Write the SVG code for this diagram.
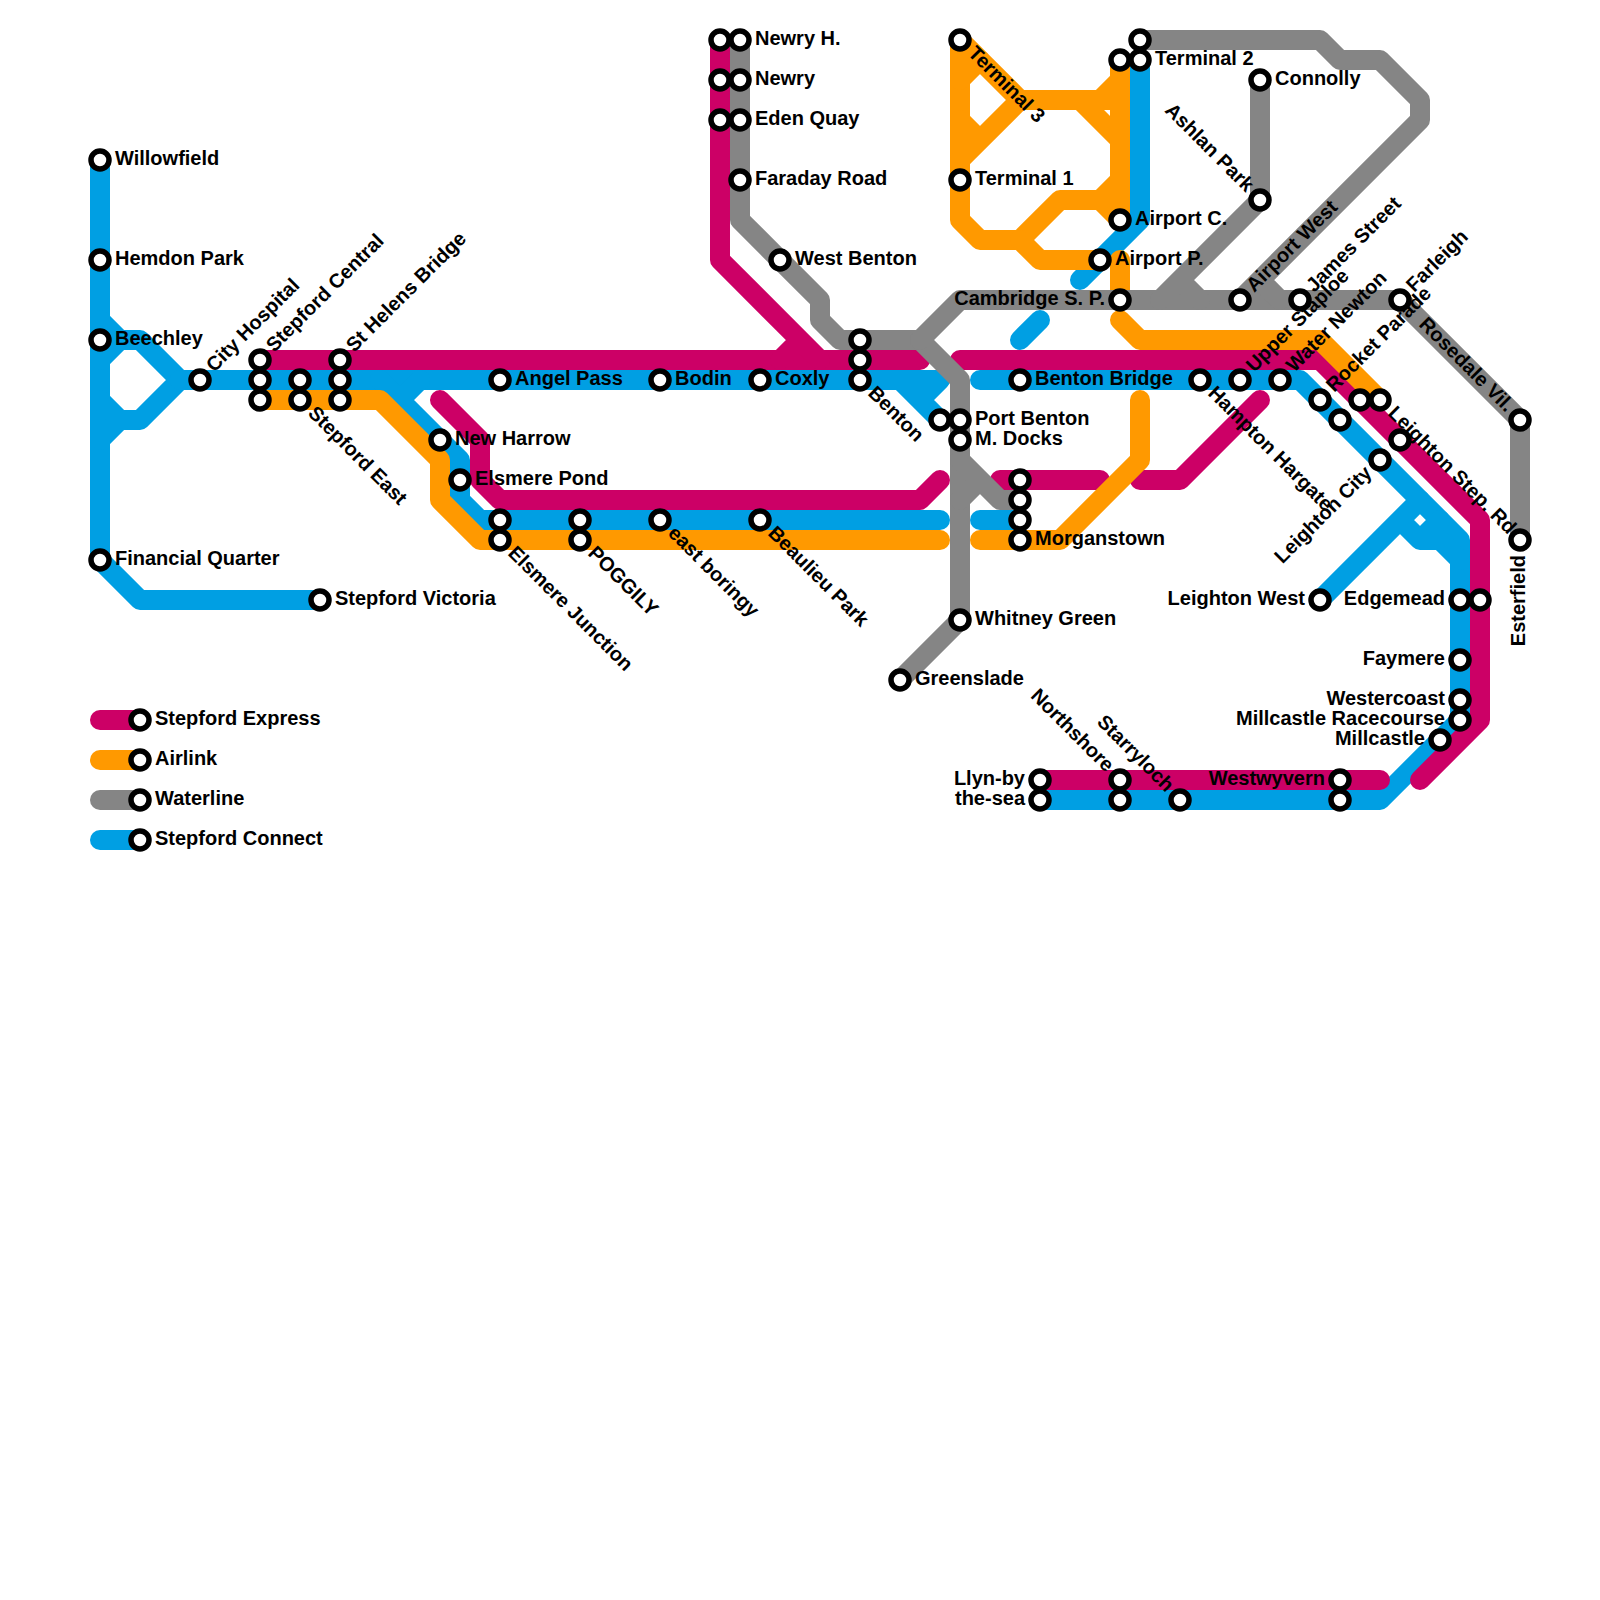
<svg xmlns="http://www.w3.org/2000/svg" width="1600" height="1600" viewBox="0 0 1600 1600">
<style>
.l{fill:none;stroke-width:20;stroke-linecap:round;stroke-linejoin:round}
.b{stroke:#009fe3}.m{stroke:#cc0066}.o{stroke:#ff9900}.g{stroke:#858585}
.s{fill:#fff;stroke:#000;stroke-width:5.5}
text{font-family:"Liberation Sans",Arial,sans-serif;font-weight:700;font-size:20px;fill:#000}
.e{text-anchor:end}
</style>
<rect width="1600" height="1600" fill="#fff"/>
<g id="connectors">
<g id="stepford-connect" class="l b">
<path d="M100 160V560L140 600H320"/>
<path d="M100 320L120 340H140L180 380L140 420H120L100 400M100 360L120 340M100 440L120 420"/>
<path d="M180 380H940M900 380L940 420M920 400L940 380"/>
<path d="M380 380L460 460V500L480 520H940M400 400L420 380"/>
<path d="M980 520H1020"/>
<path d="M1140 60V220L1080 280"/>
<path d="M1040 320L1020 340"/>
<path d="M980 380H1300L1460 540V720L1380 800H1040"/>
<path d="M1320 600L1420 500M1400 520L1420 540H1440L1460 560M1420 540L1440 520"/>
<path d="M100 840H140"/>
</g>
<g id="stepford-express" class="l m">
<path d="M260 360H920"/>
<path d="M720 40V260L820 360M780 360L800 340"/>
<path d="M960 360H1320L1480 520V720L1420 780"/>
<path d="M440 400L480 440V480L500 500H920L940 480"/>
<path d="M1000 480H1100"/>
<path d="M1140 480H1180L1260 400"/>
<path d="M1040 780H1380"/>
<path d="M100 720H140"/>
</g>
<g id="airlink" class="l o">
<path d="M260 400H380L440 460V500L480 540H940"/>
<path d="M960 40V220L980 240H1020L1060 200H1100L1120 180M1100 200L1120 220"/>
<path d="M1120 60V220M1120 80L1100 100H1020L960 40M1080 100L1120 140M1100 100H1120"/>
<path d="M960 160L1020 100M960 80L980 60M960 120L980 140"/>
<path d="M1020 240L1040 260H1100"/>
<path d="M1120 260V300M1120 320L1140 340H1320L1380 400"/>
<path d="M1140 400V460L1060 540H980"/>
<path d="M100 760H140"/>
</g>
<g id="waterline" class="l g">
<path d="M740 40V220L820 300V320L840 340H920L960 380V620L900 680"/>
<path d="M920 340L960 300H1400L1520 420V540"/>
<path d="M1160 300L1260 200V80M1180 280L1200 300"/>
<path d="M1240 300L1420 120V100L1380 60H1340L1320 40H1140M1260 280L1280 300"/>
<path d="M960 460L1000 500H1020M960 500L980 480"/>
<path d="M100 800H140"/>
</g>
</g>
<g id="stations">
<g id="st-willowfield"><circle class="s" cx="100" cy="160" r="9"/><text x="115" y="165">Willowfield</text></g>
<g id="st-hemdon-park"><circle class="s" cx="100" cy="260" r="9"/><text x="115" y="265">Hemdon Park</text></g>
<g id="st-beechley"><circle class="s" cx="100" cy="340" r="9"/><text x="115" y="345">Beechley</text></g>
<g id="st-financial-quarter"><circle class="s" cx="100" cy="560" r="9"/><text x="115" y="565">Financial Quarter</text></g>
<g id="st-stepford-victoria"><circle class="s" cx="320" cy="600" r="9"/><text x="335" y="605">Stepford Victoria</text></g>
<g id="st-city-hospital"><circle class="s" cx="200" cy="380" r="9"/><text transform="translate(200 380) rotate(-45)" x="15" y="5">City Hospital</text></g>
<g id="st-stepford-central"><circle class="s" cx="260" cy="360" r="9"/><circle class="s" cx="260" cy="380" r="9"/><circle class="s" cx="260" cy="400" r="9"/><text transform="translate(260 360) rotate(-45)" x="15" y="5">Stepford Central</text></g>
<g id="st-stepford-east"><circle class="s" cx="300" cy="380" r="9"/><circle class="s" cx="300" cy="400" r="9"/><text transform="translate(300 400) rotate(45)" x="15" y="5">Stepford East</text></g>
<g id="st-st-helens-bridge"><circle class="s" cx="340" cy="360" r="9"/><circle class="s" cx="340" cy="380" r="9"/><circle class="s" cx="340" cy="400" r="9"/><text transform="translate(340 360) rotate(-45)" x="15" y="5">St Helens Bridge</text></g>
<g id="st-new-harrow"><circle class="s" cx="440" cy="440" r="9"/><text x="455" y="445">New Harrow</text></g>
<g id="st-elsmere-pond"><circle class="s" cx="460" cy="480" r="9"/><text x="475" y="485">Elsmere Pond</text></g>
<g id="st-angel-pass"><circle class="s" cx="500" cy="380" r="9"/><text x="515" y="385">Angel Pass</text></g>
<g id="st-elsmere-junction"><circle class="s" cx="500" cy="520" r="9"/><circle class="s" cx="500" cy="540" r="9"/><text transform="translate(500 540) rotate(45)" x="15" y="5">Elsmere Junction</text></g>
<g id="st-poggily"><circle class="s" cx="580" cy="520" r="9"/><circle class="s" cx="580" cy="540" r="9"/><text transform="translate(580 540) rotate(45)" x="15" y="5">POGGILY</text></g>
<g id="st-east-boringy"><circle class="s" cx="660" cy="520" r="9"/><text transform="translate(660 520) rotate(45)" x="15" y="5">east boringy</text></g>
<g id="st-bodin"><circle class="s" cx="660" cy="380" r="9"/><text x="675" y="385">Bodin</text></g>
<g id="st-coxly"><circle class="s" cx="760" cy="380" r="9"/><text x="775" y="385">Coxly</text></g>
<g id="st-beaulieu-park"><circle class="s" cx="760" cy="520" r="9"/><text transform="translate(760 520) rotate(45)" x="15" y="5">Beaulieu Park</text></g>
<g id="st-benton"><circle class="s" cx="860" cy="340" r="9"/><circle class="s" cx="860" cy="360" r="9"/><circle class="s" cx="860" cy="380" r="9"/><text transform="translate(860 380) rotate(45)" x="15" y="5">Benton</text></g>
<g id="st-newry-h"><circle class="s" cx="720" cy="40" r="9"/><circle class="s" cx="740" cy="40" r="9"/><text x="755" y="45">Newry H.</text></g>
<g id="st-newry"><circle class="s" cx="720" cy="80" r="9"/><circle class="s" cx="740" cy="80" r="9"/><text x="755" y="85">Newry</text></g>
<g id="st-eden-quay"><circle class="s" cx="720" cy="120" r="9"/><circle class="s" cx="740" cy="120" r="9"/><text x="755" y="125">Eden Quay</text></g>
<g id="st-faraday-road"><circle class="s" cx="740" cy="180" r="9"/><text x="755" y="185">Faraday Road</text></g>
<g id="st-west-benton"><circle class="s" cx="780" cy="260" r="9"/><text x="795" y="265">West Benton</text></g>
<g id="st-terminal-3"><circle class="s" cx="960" cy="40" r="9"/><text transform="translate(960 40) rotate(45)" x="15" y="5">Terminal 3</text></g>
<g id="st-terminal-1"><circle class="s" cx="960" cy="180" r="9"/><text x="975" y="185">Terminal 1</text></g>
<g id="st-port-benton"><circle class="s" cx="940" cy="420" r="9"/><circle class="s" cx="960" cy="420" r="9"/><text x="975" y="425">Port Benton</text></g>
<g id="st-m-docks"><circle class="s" cx="960" cy="440" r="9"/><text x="975" y="445">M. Docks</text></g>
<g id="st-whitney-green"><circle class="s" cx="960" cy="620" r="9"/><text x="975" y="625">Whitney Green</text></g>
<g id="st-greenslade"><circle class="s" cx="900" cy="680" r="9"/><text x="915" y="685">Greenslade</text></g>
<g id="st-benton-bridge"><circle class="s" cx="1020" cy="380" r="9"/><text x="1035" y="385">Benton Bridge</text></g>
<g id="st-morganstown"><circle class="s" cx="1020" cy="480" r="9"/><circle class="s" cx="1020" cy="500" r="9"/><circle class="s" cx="1020" cy="520" r="9"/><circle class="s" cx="1020" cy="540" r="9"/><text x="1035" y="545">Morganstown</text></g>
<g id="st-airport-c"><circle class="s" cx="1120" cy="220" r="9"/><text x="1135" y="225">Airport C.</text></g>
<g id="st-airport-p"><circle class="s" cx="1100" cy="260" r="9"/><text x="1115" y="265">Airport P.</text></g>
<g id="st-cambridge-s-p"><circle class="s" cx="1120" cy="300" r="9"/><text class="e" x="1105" y="305">Cambridge S. P.</text></g>
<g id="st-terminal-2"><circle class="s" cx="1140" cy="40" r="9"/><circle class="s" cx="1120" cy="60" r="9"/><circle class="s" cx="1140" cy="60" r="9"/><text x="1155" y="65">Terminal 2</text></g>
<g id="st-connolly"><circle class="s" cx="1260" cy="80" r="9"/><text x="1275" y="85">Connolly</text></g>
<g id="st-ashlan-park"><circle class="s" cx="1260" cy="200" r="9"/><text class="e" transform="translate(1260 200) rotate(45)" x="-15" y="5">Ashlan Park</text></g>
<g id="st-airport-west"><circle class="s" cx="1240" cy="300" r="9"/><text transform="translate(1240 300) rotate(-45)" x="15" y="5">Airport West</text></g>
<g id="st-james-street"><circle class="s" cx="1300" cy="300" r="9"/><text transform="translate(1300 300) rotate(-45)" x="15" y="5">James Street</text></g>
<g id="st-farleigh"><circle class="s" cx="1400" cy="300" r="9"/><text transform="translate(1400 300) rotate(-45)" x="15" y="5">Farleigh</text></g>
<g id="st-rosedale-vil"><circle class="s" cx="1520" cy="420" r="9"/><text class="e" transform="translate(1520 420) rotate(45)" x="-15" y="5">Rosedale Vil.</text></g>
<g id="st-esterfield"><circle class="s" cx="1520" cy="540" r="9"/><text class="e" transform="translate(1520 540) rotate(-90)" x="-15" y="5">Esterfield</text></g>
<g id="st-hampton-hargate"><circle class="s" cx="1200" cy="380" r="9"/><text transform="translate(1200 380) rotate(45)" x="15" y="5">Hampton Hargate</text></g>
<g id="st-upper-staploe"><circle class="s" cx="1240" cy="380" r="9"/><text transform="translate(1240 380) rotate(-45)" x="15" y="5">Upper Staploe</text></g>
<g id="st-water-newton"><circle class="s" cx="1280" cy="380" r="9"/><text transform="translate(1280 380) rotate(-45)" x="15" y="5">Water Newton</text></g>
<g id="st-rocket-parade"><circle class="s" cx="1320" cy="400" r="9"/><circle class="s" cx="1340" cy="420" r="9"/><text transform="translate(1320 400) rotate(-45)" x="15" y="5">Rocket Parade</text></g>
<g id="st-leighton-step-rd"><circle class="s" cx="1360" cy="400" r="9"/><circle class="s" cx="1380" cy="400" r="9"/><circle class="s" cx="1400" cy="440" r="9"/><text transform="translate(1380 400) rotate(45)" x="15" y="5">Leighton Step. Rd</text></g>
<g id="st-leighton-city"><circle class="s" cx="1380" cy="460" r="9"/><text class="e" transform="translate(1380 460) rotate(-45)" x="-15" y="5">Leighton City</text></g>
<g id="st-leighton-west"><circle class="s" cx="1320" cy="600" r="9"/><text class="e" x="1305" y="605">Leighton West</text></g>
<g id="st-edgemead"><circle class="s" cx="1460" cy="600" r="9"/><circle class="s" cx="1480" cy="600" r="9"/><text class="e" x="1445" y="605">Edgemead</text></g>
<g id="st-faymere"><circle class="s" cx="1460" cy="660" r="9"/><text class="e" x="1445" y="665">Faymere</text></g>
<g id="st-westercoast"><circle class="s" cx="1460" cy="700" r="9"/><text class="e" x="1445" y="705">Westercoast</text></g>
<g id="st-millcastle-racecourse"><circle class="s" cx="1460" cy="720" r="9"/><text class="e" x="1445" y="725">Millcastle Racecourse</text></g>
<g id="st-millcastle"><circle class="s" cx="1440" cy="740" r="9"/><text class="e" x="1425" y="745">Millcastle</text></g>
<g id="st-westwyvern"><circle class="s" cx="1340" cy="780" r="9"/><circle class="s" cx="1340" cy="800" r="9"/><text class="e" x="1325" y="785">Westwyvern</text></g>
<g id="st-starryloch"><circle class="s" cx="1180" cy="800" r="9"/><text class="e" transform="translate(1180 800) rotate(45)" x="-15" y="5">Starryloch</text></g>
<g id="st-northshore"><circle class="s" cx="1120" cy="780" r="9"/><circle class="s" cx="1120" cy="800" r="9"/><text class="e" transform="translate(1120 780) rotate(45)" x="-15" y="5">Northshore</text></g>
<g id="st-llyn-by-the-sea"><circle class="s" cx="1040" cy="780" r="9"/><circle class="s" cx="1040" cy="800" r="9"/><text class="e" x="1025" y="785">Llyn-by</text><text class="e" x="1025" y="805">the-sea</text></g>
</g>
<g id="legend">
<g id="lg-express"><circle class="s" cx="140" cy="720" r="9"/><text x="155" y="725">Stepford Express</text></g>
<g id="lg-airlink"><circle class="s" cx="140" cy="760" r="9"/><text x="155" y="765">Airlink</text></g>
<g id="lg-waterline"><circle class="s" cx="140" cy="800" r="9"/><text x="155" y="805">Waterline</text></g>
<g id="lg-connect"><circle class="s" cx="140" cy="840" r="9"/><text x="155" y="845">Stepford Connect</text></g>
</g>
</svg>
